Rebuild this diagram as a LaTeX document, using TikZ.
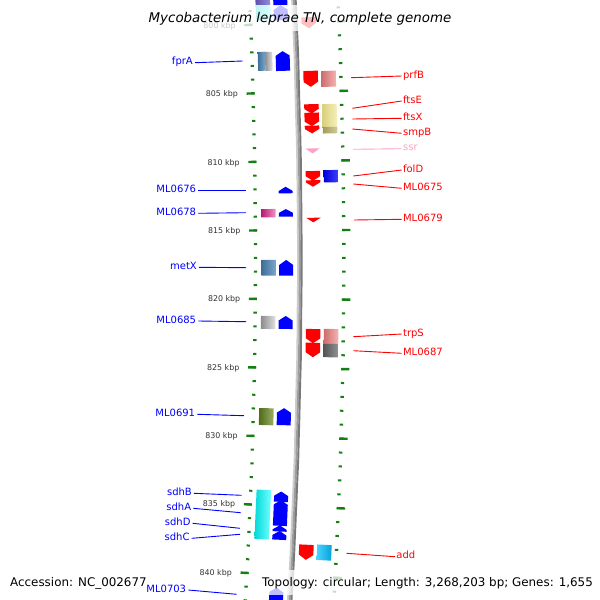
\documentclass[tikz,border=0pt]{standalone}
\usepackage{fontspec}
\setmainfont{DejaVu Sans}
\definecolor{tickgreen}{RGB}{20,128,20}
\definecolor{lblue}{RGB}{0,0,255}
\definecolor{lred}{RGB}{255,0,0}
\definecolor{lpink}{RGB}{255,160,200}
\definecolor{steel}{RGB}{70,130,180}
\definecolor{cogpink}{RGB}{230,30,140}
\definecolor{olive}{RGB}{107,142,35}
\definecolor{coral}{RGB}{240,128,128}
\definecolor{khaki}{RGB}{240,230,140}
\definecolor{dkhaki}{RGB}{189,183,107}
\definecolor{dimgr}{RGB}{100,100,100}
\definecolor{skyb}{RGB}{0,191,255}
\definecolor{slateb}{RGB}{106,90,205}
\definecolor{kbpgray}{RGB}{50,50,50}
% angle (deg) for pixel row #1 on radius #2
\newcommand\YA[2]{((#1-258.5)/100)*(5729.578/(#2))}
\newcommand\featbox[5]{%
 \pgfmathsetmacro\fRm{(#3+#4)/2}%
 \path[#5] ({\YA{#1}{\fRm}}:#3) -- ({\YA{#1}{\fRm}}:#4) -- ({\YA{#2}{\fRm}}:#4) -- ({\YA{#2}{\fRm}}:#3) -- cycle;}
\newcommand\fwdarrow[6]{%
 \pgfmathsetmacro\fRm{(#4+#5)/2}%
 \pgfmathsetmacro\fYb{#2-#3}%
 \path[#6] ({\YA{#1}{\fRm}}:#4) -- ({\YA{#1}{\fRm}}:#5) -- ({\YA{\fYb}{\fRm}}:#5) -- ({\YA{#2}{\fRm}}:\fRm) -- ({\YA{\fYb}{\fRm}}:#4) -- cycle;}
\newcommand\revarrow[6]{%
 \pgfmathsetmacro\fRm{(#4+#5)/2}%
 \pgfmathsetmacro\fYb{#1+#3}%
 \path[#6] ({\YA{#1}{\fRm}}:\fRm) -- ({\YA{\fYb}{\fRm}}:#5) -- ({\YA{#2}{\fRm}}:#5) -- ({\YA{#2}{\fRm}}:#4) -- ({\YA{\fYb}{\fRm}}:#4) -- cycle;}
\begin{document}
\begin{tikzpicture}[x=1pt,y=-1pt,
  lbl/.style={font=\fontsize{10}{11}\selectfont, inner ysep=0pt, text height=7.2pt, text depth=3pt},
  llbl/.style={lbl, text=lblue, anchor=east, inner xsep=2pt},
  rlbl/.style={lbl, text=lred, anchor=west, inner xsep=1.2pt},
  lline/.style={draw=lblue, line width=0.9pt},
  rline/.style={draw=lred, line width=0.9pt},
  kbp/.style={font=\fontsize{7.9}{8}\selectfont, text=kbpgray, anchor=east, inner sep=0pt, text height=5.8pt, text depth=0pt},
  minortick/.style={draw=tickgreen, line width=2pt},
  majortick/.style={draw=tickgreen, line width=2.4pt},
  redarr/.style={fill=lred},
  bluearr/.style={fill=lblue},
  veil/.style={fill=white, opacity=0.75}]
\useasboundingbox (0,0) rectangle (600,600);
\fill[white] (0,0) rectangle (600,600);
\clip (0,0) rectangle (600,600);
\begin{scope}[shift={(-5542.7,258.5)}]
 % backbone
 \draw[line width=1.9pt, draw=black!20] plot[domain=-2.9:3.6, samples=60] (\x:5840.9);
 \draw[line width=1.9pt, draw=black!38] plot[domain=-2.9:3.6, samples=60] (\x:5842.7);
 \draw[line width=1.9pt, draw=black!52] plot[domain=-2.9:3.6, samples=60] (\x:5844.5);
 % ticks
 \foreach \p in {799,...,842}{
   \pgfmathsetmacro\tang{(\p-817.05)*0.13548}
   \draw[minortick] (\tang:5796.7) -- (\tang:5800);
   \draw[minortick] (\tang:5885) -- (\tang:5888.4);
 }
 \foreach \p in {800,805,...,840}{
   \pgfmathsetmacro\tang{(\p-817.05)*0.13548}
   \draw[majortick] (\tang:5792) -- (\tang:5800);
   \draw[majortick] (\tang:5885) -- (\tang:5893.4);
   \node[kbp] (k\p) at (\tang:5783.5) {\p\ kbp};
 }
 % left COG boxes
 \featbox{-20}{5}{5804.2}{5818.7}{left color=slateb!85!black, right color=slateb!70!white}
 \featbox{5}{20}{5804.2}{5818.7}{left color=cyan!80!black, right color=cyan!60!white}
 \featbox{51.7}{70.7}{5804.2}{5811.4}{left color=steel!85!black, right color=steel!70!white}
 \featbox{51.7}{70.7}{5811.4}{5818.7}{left color=black!45, right color=black!10}
 \featbox{209}{217.3}{5804.2}{5818.7}{left color=cogpink!80!black, right color=cogpink!50!white}
 \featbox{260}{275.7}{5804.2}{5818.7}{left color=steel!85!black, right color=steel!70!white}
 \featbox{316}{329}{5804.2}{5818.7}{left color=black!45, right color=black!12}
 \featbox{408.3}{425.3}{5804.2}{5818.7}{left color=olive!75!black, right color=olive!70!white}
 \featbox{490}{539.3}{5804.2}{5818.7}{left color=cyan!85!black, middle color=cyan, right color=cyan!55!white}
 % left (reverse) arrows
 \revarrow{-25}{5}{4.5}{5822}{5836}{bluearr}
 \revarrow{5}{20}{4.5}{5822}{5836}{bluearr}
 \revarrow{51}{70.7}{4.5}{5822}{5836}{bluearr}
 \revarrow{186.7}{193.3}{4.3}{5822}{5836}{bluearr}
 \revarrow{209}{216.7}{3.8}{5822}{5836}{bluearr}
 \revarrow{260}{275.7}{5}{5822}{5836}{bluearr}
 \revarrow{316}{329}{4.5}{5822}{5836}{bluearr}
 \revarrow{408.3}{425.3}{4.5}{5822}{5836}{bluearr}
 \revarrow{491.7}{502}{4.3}{5822}{5836}{bluearr}
 \revarrow{500.5}{526}{4.3}{5822}{5836}{bluearr}
 \revarrow{525.5}{531.7}{4.3}{5822}{5836}{bluearr}
 \revarrow{531.2}{540}{4.3}{5822}{5836}{bluearr}
 \revarrow{588}{615}{4.5}{5822}{5836}{bluearr}
 % right (forward) arrows
 \fwdarrow{17}{28}{5}{5849.2}{5863.7}{redarr}
 \fwdarrow{70.7}{86.7}{5}{5849.2}{5863.7}{redarr}
 \fwdarrow{104}{113.3}{4.5}{5849.2}{5863.7}{redarr}
 \fwdarrow{112.5}{126}{4.5}{5849.2}{5863.7}{redarr}
 \fwdarrow{125.5}{133.3}{4.5}{5849.2}{5863.7}{redarr}
 \fwdarrow{148.3}{153.3}{5}{5849.2}{5863.7}{fill=lpink}
 \fwdarrow{171}{180.7}{4.5}{5849.2}{5863.7}{redarr}
 \fwdarrow{180.2}{186.7}{4.5}{5849.2}{5863.7}{redarr}
 \fwdarrow{217.7}{222.3}{4.6}{5849.2}{5863.7}{redarr}
 \fwdarrow{329}{343.3}{5}{5849.2}{5863.7}{redarr}
 \fwdarrow{342.8}{357.3}{5}{5849.2}{5863.7}{redarr}
 \fwdarrow{545}{560}{5}{5849.2}{5863.7}{redarr}
 % right COG boxes
 \featbox{70.7}{86.7}{5867.2}{5881.7}{left color=coral!85!black, right color=coral!60!white}
 \featbox{104}{126.7}{5867.2}{5881.7}{left color=khaki!90!black, right color=khaki!60!white}
 \featbox{126.7}{133.3}{5867.2}{5881.7}{left color=dkhaki!85!black, right color=dkhaki!70!white}
 \featbox{170}{182.3}{5867.2}{5881.7}{left color=blue!85!black, right color=blue!75!white}
 \featbox{329}{344}{5867.2}{5881.7}{left color=coral!85!black, right color=coral!60!white}
 \featbox{344}{357.3}{5867.2}{5881.7}{left color=dimgr!85!black, right color=dimgr!70!white}
 \featbox{545}{560.5}{5867.2}{5881.7}{left color=skyb!70!white, right color=skyb!85!black}
\end{scope}
% left labels
\coordinate (e-fprA) at (242.7,61);
\coordinate (e-ML0676) at (246,190);
\coordinate (e-ML0678) at (246,212.7);
\coordinate (e-metX) at (246,267.7);
\coordinate (e-ML0685) at (246,321.7);
\coordinate (e-ML0691) at (244,415.7);
\coordinate (e-sdhB) at (241.7,495.3);
\coordinate (e-sdhA) at (240.7,512.7);
\coordinate (e-sdhD) at (240,528.3);
\coordinate (e-sdhC) at (240,534.3);
\coordinate (e-ML0703) at (236.7,594.3);
\node[llbl] (l-fprA) at (195,62.7) {fprA};
\node[llbl] (l-ML0676) at (198.3,190) {ML0676};
\node[llbl] (l-ML0678) at (198.3,213.3) {ML0678};
\node[llbl] (l-metX) at (199,267.3) {metX};
\node[llbl] (l-ML0685) at (198.3,321) {ML0685};
\node[llbl] (l-ML0691) at (197.3,414.3) {ML0691};
\node[llbl] (l-sdhB) at (194,493.3) {sdhB};
\node[llbl] (l-sdhA) at (193.3,508.3) {sdhA};
\node[llbl] (l-sdhD) at (192.7,523.3) {sdhD};
\node[llbl] (l-sdhC) at (191.7,538.3) {sdhC};
\node[llbl] (l-ML0703) at (188.3,590) {ML0703};
\foreach \n in {fprA,ML0676,ML0678,metX,ML0685,ML0691,sdhB,sdhA,sdhD,sdhC,ML0703}
  \draw[lline] (l-\n.east) -- (e-\n);
% right labels
\coordinate (s-prfB) at (351.2,77.7);
\coordinate (s-ftsE) at (352.3,108.3);
\coordinate (s-ftsX) at (352.3,119);
\coordinate (s-smpB) at (352.3,129);
\coordinate (s-ssr) at (353.3,149.3);
\coordinate (s-folD) at (353.3,176);
\coordinate (s-ML0675) at (353.3,184);
\coordinate (s-ML0679) at (354,220);
\coordinate (s-trpS) at (353.3,336.7);
\coordinate (s-ML0687) at (353.3,350.7);
\coordinate (s-add) at (346.7,553.3);
\node[rlbl] (r-prfB) at (401.7,76) {prfB};
\node[rlbl] (r-ftsE) at (401.7,101) {ftsE};
\node[rlbl] (r-ftsX) at (401.7,118.3) {ftsX};
\node[rlbl] (r-smpB) at (401.7,133.3) {smpB};
\node[rlbl, text=lpink] (r-ssr) at (401.7,148.7) {ssr};
\node[rlbl] (r-folD) at (401.7,170) {folD};
\node[rlbl] (r-ML0675) at (401.7,188.3) {ML0675};
\node[rlbl] (r-ML0679) at (401.7,219.3) {ML0679};
\node[rlbl] (r-trpS) at (401.7,334) {trpS};
\node[rlbl] (r-ML0687) at (401.7,353.3) {ML0687};
\node[rlbl] (r-add) at (395,556.7) {add};
\foreach \n in {prfB,ftsE,ftsX,smpB,folD,ML0675,ML0679,trpS,ML0687,add}
  \draw[rline] (s-\n) -- (r-\n.west);
\draw[draw=lpink, line width=0.9pt] (s-ssr) -- (r-ssr.west);
% title and footer
\fill[veil] (143,5) rectangle (457,31);
\node[font=\fontsize{13.4}{14}\selectfont\itshape, anchor=base, inner sep=0pt] (title) at (300,22.7) {Mycobacterium leprae TN, complete genome};
\fill[veil] (257,570) rectangle (598,595);
\node[font=\fontsize{11.9}{12}\selectfont, anchor=base west, inner sep=0pt] (acc) at (10,586.7) {Accession: NC\_002677};
\node[font=\fontsize{11.9}{12}\selectfont, anchor=base west, inner sep=0pt] (topo) at (262,586.7) {Topology: circular; Length: 3,268,203 bp; Genes: 1,655};
\end{tikzpicture}
\end{document}
